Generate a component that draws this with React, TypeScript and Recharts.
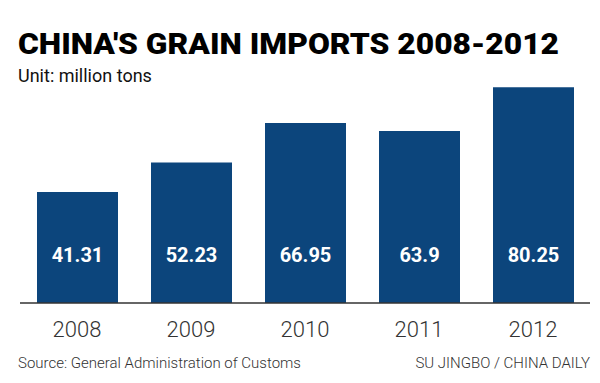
import React from "react";
import { BarChart, Bar, XAxis, YAxis, LabelList } from "recharts";

const years = ["2008", "2009", "2010", "2011", "2012"];
const imports = [41.31, 52.23, 66.95, 63.9, 80.25];
const valueLabels = ["41.31", "52.23", "66.95", "63.9", "80.25"];

const data = years.map((y, i) => ({ year: y, value: imports[i], label: valueLabels[i] }));

const BAR = "#0c457c";
const FONT = "Roboto, 'Liberation Sans', sans-serif";

const Tick = (props: any) => {
  const { x, y, payload } = props;
  return (
    <text x={x} y={y + 26} textAnchor="middle" fontFamily={FONT} fontWeight={300} fontSize={22} fill="#333">
      {payload.value}
    </text>
  );
};

const ValueLabel = (props: any) => {
  const { x, y, width, height, value } = props;
  return (
    <text
      x={x + width / 2}
      y={y + height - 41}
      textAnchor="middle"
      fontFamily={FONT}
      fontWeight={700}
      fontSize={20}
      fill="#fff"
    >
      {value}
    </text>
  );
};

export default function App() {
  return (
    <div style={{ position: "absolute", left: 0, top: 0, width: 600, height: 383, background: "#fff" }}>
      <svg width={600} height={383} style={{ position: "absolute", left: 0, top: 0 }}>
        <text
          x={18}
          y={54}
          fontFamily={FONT}
          fontWeight={900}
          fontSize={29.5}
          textLength={541}
          lengthAdjust="spacingAndGlyphs"
          fill="#000"
        >
          CHINA'S GRAIN IMPORTS 2008-2012
        </text>
        <text x={18} y={82} fontFamily={FONT} fontWeight={400} fontSize={18} fill="#111">
          Unit: million tons
        </text>
        <text x={18} y={368} fontFamily={FONT} fontWeight={300} fontSize={15} fill="#333">
          Source: General Administration of Customs
        </text>
        <text x={590} y={368} textAnchor="end" fontFamily={FONT} fontWeight={300} fontSize={15} fill="#333">
          SU JINGBO / CHINA DAILY
        </text>
      </svg>
      <div style={{ position: "absolute", left: 0, top: 0 }}>
        <BarChart width={600} height={383} data={data} margin={{ top: 34, right: 10, bottom: 50, left: 20 }}>
          <YAxis hide domain={[0, 100]} />
          <XAxis
            dataKey="year"
            height={30}
            tickLine={false}
            axisLine={{ stroke: "#333", strokeWidth: 1.5 }}
            tick={<Tick />}
            interval={0}
          />
          <Bar dataKey="value" fill={BAR} barSize={81} isAnimationActive={false}>
            <LabelList dataKey="label" content={<ValueLabel />} />
          </Bar>
        </BarChart>
      </div>
    </div>
  );
}
